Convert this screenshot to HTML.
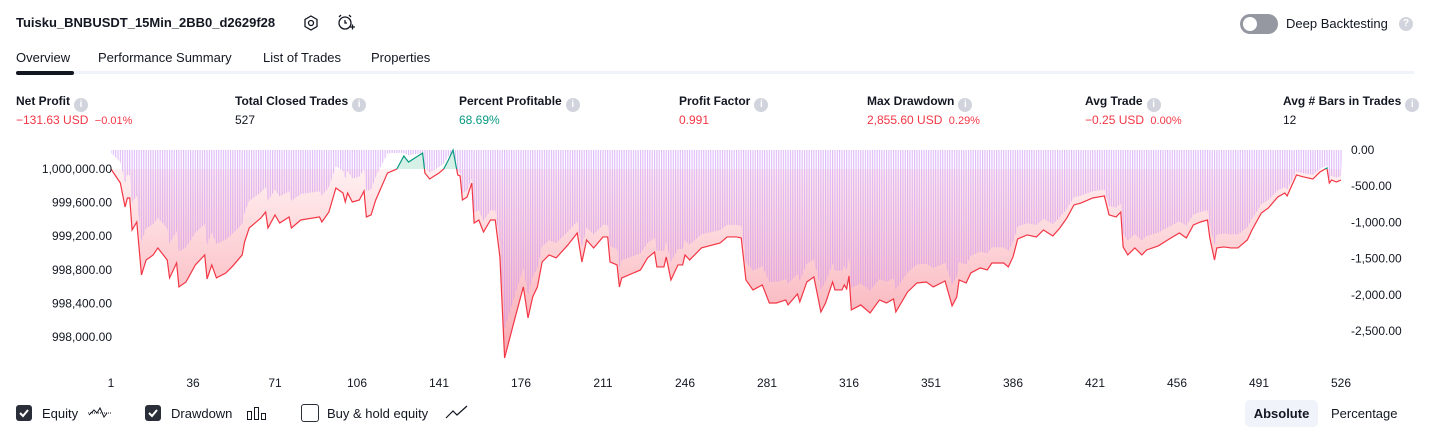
<!DOCTYPE html>
<html><head><meta charset="utf-8">
<style>
body{margin:0;width:1431px;height:438px;background:#fff;font-family:"Liberation Sans",sans-serif;color:#131722;position:relative;overflow:hidden}
.a{position:absolute;white-space:nowrap}
.t{font-size:13px}
.lab{font-size:12px;font-weight:bold;color:#131722}
.val{font-size:12px}
.red{color:#f23645}.green{color:#089981}
.info{display:inline-block;width:14px;height:14px;border-radius:7px;background:#d1d4dc;color:#fff;font-size:10px;text-align:center;line-height:14px;font-weight:bold;vertical-align:-2px;margin-left:4px}
.cb{position:absolute;width:16px;height:16px;border-radius:3px;top:405px}
</style></head><body>
<div class="a" style="left:16px;top:15px;font-size:13px;font-weight:bold">Tuisku_BNBUSDT_15Min_2BB0_d2629f28</div>
<svg class="a" style="left:302px;top:14px" width="18" height="18" viewBox="0 0 18 18"><polygon points="9,2 15,5.5 15,12.5 9,16 3,12.5 3,5.5" fill="none" stroke="#131722" stroke-width="1.3"/><circle cx="9" cy="9" r="2.5" fill="none" stroke="#131722" stroke-width="1.3"/></svg>
<svg class="a" style="left:336px;top:13px" width="20" height="20" viewBox="0 0 20 20"><circle cx="9" cy="10" r="6" fill="none" stroke="#131722" stroke-width="1.3"/><path d="M9 7v3h2M3 4l2-2M15 4l-2-2M14 14h5M16.5 11.5v5" stroke="#131722" stroke-width="1.3" fill="none"/></svg>
<div class="a" style="left:1240px;top:14px;width:38px;height:20px;border-radius:10px;background:#9598a1"><div style="position:absolute;left:3px;top:3px;width:14px;height:14px;border-radius:7px;background:#fff"></div></div>
<div class="a t" style="left:1286px;top:16px">Deep Backtesting</div>
<div class="a info" style="left:1395px;top:17px">?</div>

<div class="a t" style="left:16px;top:50px">Overview</div>
<div class="a t" style="left:98px;top:50px">Performance Summary</div>
<div class="a t" style="left:263px;top:50px">List of Trades</div>
<div class="a t" style="left:371px;top:50px">Properties</div>
<div class="a" style="left:16px;top:71px;width:1398px;height:3px;background:#f0f3fa"></div>
<div class="a" style="left:16px;top:71px;width:58px;height:4px;border-radius:2px;background:#131722"></div>

<div class="a lab" style="left:16px;top:94px">Net Profit<span class="info">i</span></div>
<div class="a val red" style="left:16px;top:113px">−131.63 USD <span style="font-size:11px">&nbsp;−0.01%</span></div>
<div class="a lab" style="left:235px;top:94px">Total Closed Trades<span class="info">i</span></div>
<div class="a val" style="left:235px;top:113px">527</div>
<div class="a lab" style="left:459px;top:94px">Percent Profitable<span class="info">i</span></div>
<div class="a val green" style="left:459px;top:113px">68.69%</div>
<div class="a lab" style="left:679px;top:94px">Profit Factor<span class="info">i</span></div>
<div class="a val red" style="left:679px;top:113px">0.991</div>
<div class="a lab" style="left:867px;top:94px">Max Drawdown<span class="info">i</span></div>
<div class="a val red" style="left:867px;top:113px">2,855.60 USD <span style="font-size:11px">&nbsp;0.29%</span></div>
<div class="a lab" style="left:1085px;top:94px">Avg Trade<span class="info">i</span></div>
<div class="a val red" style="left:1085px;top:113px">−0.25 USD <span style="font-size:11px">&nbsp;0.00%</span></div>
<div class="a lab" style="left:1283px;top:94px">Avg # Bars in Trades<span class="info">i</span></div>
<div class="a val" style="left:1283px;top:113px">12</div>

<svg id="chart" class="a" style="left:0;top:0" width="1431" height="395">
<defs>
<linearGradient id="pg" x1="0" y1="169" x2="0" y2="358" gradientUnits="userSpaceOnUse"><stop offset="0" stop-color="#fff0f1"/><stop offset="1" stop-color="#f8a9b2"/></linearGradient>
<clipPath id="below"><rect x="0" y="169" width="1431" height="300"/></clipPath>
<clipPath id="above"><rect x="0" y="0" width="1431" height="169"/></clipPath>
<pattern id="stripes" patternUnits="userSpaceOnUse" x="110.4" y="0" width="2.343" height="20"><rect x="0" y="0" width="1.15" height="20" fill="#c98ef5"/></pattern>
</defs>
<g id="g-fill"></g><g id="g-bars"></g><g id="g-line"></g><g id="g-axes"></g>
</svg>

<div class="cb" style="left:16px;background:#2a2e39"><svg width="16" height="16"><path d="M4 8l3 3 5-6" stroke="#fff" stroke-width="2" fill="none"/></svg></div>
<div class="a t" style="left:42px;top:406px">Equity</div>
<svg class="a" style="left:87px;top:403px" width="26" height="18"><path d="M1 10h24" stroke="#131722" stroke-dasharray="1 1"/><path d="M2 12l5-5 3 3 3-5 4 9 3-4" stroke="#131722" fill="none"/></svg>
<div class="cb" style="left:145px;background:#2a2e39"><svg width="16" height="16"><path d="M4 8l3 3 5-6" stroke="#fff" stroke-width="2" fill="none"/></svg></div>
<div class="a t" style="left:171px;top:406px">Drawdown</div>
<svg class="a" style="left:246px;top:404px" width="22" height="18"><rect x="1.5" y="7.5" width="4" height="8" fill="none" stroke="#131722"/><rect x="8.5" y="3.5" width="4" height="12" fill="none" stroke="#131722"/><rect x="15.5" y="9.5" width="4" height="6" fill="none" stroke="#131722"/></svg>
<div class="cb" style="left:301px;border:1px solid #2a2e39;width:16px;height:16px;top:404px"></div>
<div class="a t" style="left:327px;top:406px">Buy &amp; hold equity</div>
<svg class="a" style="left:445px;top:404px" width="24" height="16"><path d="M1 14l7-7 4 4 10-9" stroke="#131722" fill="none" stroke-width="1.2"/></svg>
<div class="a t" style="left:1245px;top:400px;width:73px;height:27px;line-height:27px;text-align:center;background:#f0f3fa;border-radius:5px;font-weight:bold">Absolute</div>
<div class="a t" style="left:1331px;top:400px;height:27px;line-height:27px">Percentage</div>

<script>
const trades=[1,5,7,8,9,10,12,14,16,19,21,25,26,29,30,33,37,41,42,44,46,50,53,57,58,60,65,67,68,71,73,77,78,82,90,91,94,97,100,101,102,104,107,109,110,112,114,119,121,123,126,128,134,135,137,141,143,145,147,149,150,151,153,155,156,158,160,163,165,167,169,171,173,177,179,181,183,185,188,191,196,200,202,204,207,211,213,214,217,218,219,227,230,233,234,237,238,240,243,245,246,248,253,261,264,268,270,272,275,279,282,285,289,290,294,295,298,301,304,306,309,310,313,314,315,316,317,321,325,329,332,335,336,341,345,349,352,357,360,362,363,366,368,372,375,377,382,384,386,388,392,396,399,403,406,409,412,415,420,425,427,430,432,433,435,438,441,443,448,452,457,460,463,466,469,470,472,473,476,479,482,486,488,492,495,499,502,503,507,510,514,517,520,521,522,524,526];
const pnl=[0,-167,-452,-345,-345,-726,-631,-1261,-1083,-1023,-940,-1083,-1297,-1119,-1404,-1345,-1142,-1023,-1309,-1142,-1297,-1238,-1154,-1023,-869,-702,-583,-512,-702,-547,-643,-571,-702,-607,-571,-631,-512,-226,-286,-393,-286,-393,-369,-262,-571,-547,-369,-48,-24,0,155,83,190,-48,-119,-48,0,107,226,-71,-83,-369,-333,-167,-643,-607,-750,-607,-607,-1047,-2249,-2035,-1821,-1404,-1773,-1523,-1404,-1107,-1023,-1059,-904,-762,-1107,-845,-940,-809,-809,-1107,-1142,-1404,-1297,-1202,-1059,-988,-1166,-1166,-1047,-1321,-1142,-1142,-1023,-1083,-940,-881,-809,-809,-821,-1321,-1440,-1380,-1595,-1595,-1559,-1618,-1488,-1583,-1345,-1285,-1702,-1595,-1345,-1440,-1440,-1380,-1428,-1273,-1678,-1618,-1714,-1559,-1595,-1547,-1702,-1464,-1357,-1345,-1404,-1333,-1630,-1523,-1321,-1357,-1238,-1178,-1202,-1119,-1119,-1166,-1047,-833,-785,-809,-726,-797,-702,-583,-428,-405,-345,-321,-547,-571,-512,-928,-1023,-940,-1023,-964,-916,-845,-762,-821,-666,-631,-607,-821,-1083,-940,-928,-940,-940,-845,-726,-524,-464,-333,-286,-321,-71,-95,-119,-36,12,-167,-131,-155,-131.63];
const initialCapital=1000000;
const leftTicks=[1000000,999600,999200,998800,998400,998000];
const leftTickLabels=["1,000,000.00","999,600.00","999,200.00","998,800.00","998,400.00","998,000.00"];
const rightTicks=[0,-500,-1000,-1500,-2000,-2500];
const rightTickLabels=["0.00","-500.00","-1,000.00","-1,500.00","-2,000.00","-2,500.00"];
const xTicks=[1,36,71,106,141,176,211,246,281,316,351,386,421,456,491,526];

const NS="http://www.w3.org/2000/svg";
const xS=t=>111+(t-1)*(1230/525);
const yL=v=>169+(1000000-v)/400*33.6;
const yR=d=>150+(-d)/500*36.2;
function mk(tag,attrs,parent){const e=document.createElementNS(NS,tag);for(const k in attrs)e.setAttribute(k,attrs[k]);parent.appendChild(e);return e;}
const gF=document.getElementById('g-fill'),gB=document.getElementById('g-bars'),gL=document.getElementById('g-line'),gA=document.getElementById('g-axes');
const equity=pnl.map(p=>initialCapital+p);
// drawdown: striped area from 0 down to drawdown value
let peak=initialCapital;
let dd='M'+xS(trades[0]).toFixed(2)+' 150';
trades.forEach((t,i)=>{peak=Math.max(peak,equity[i]);const v=peak-equity[i];
 dd+='L'+xS(t).toFixed(2)+' '+Math.max(153,yR(-v)).toFixed(2);});
dd+='L'+(xS(trades[trades.length-1])+1).toFixed(2)+' 150Z';
// line path
let d='';trades.forEach((t,i)=>{d+=(i?'L':'M')+xS(t).toFixed(2)+' '+yL(equity[i]).toFixed(2);});
const base=yL(initialCapital);
const area=d+'L'+xS(trades[trades.length-1])+' '+base+'L'+xS(trades[0])+' '+base+'Z';
const pf=mk('path',{d:area,fill:'url(#pg)','clip-path':'url(#below)'},gF);


const gf=mk('path',{d:area,fill:'#d5f0e6','clip-path':'url(#above)'},gF);


const bars=mk('path',{d:dd,fill:'url(#stripes)',opacity:'0.6'},gB);


const lr=mk('path',{d:d,fill:'none',stroke:'#f23645','stroke-width':1.2,'clip-path':'url(#below)'},gL);


const lg=mk('path',{d:d,fill:'none',stroke:'#089981','stroke-width':1.2,'clip-path':'url(#above)'},gL);


// axes
leftTicks.forEach((v,i)=>{const e=mk('text',{x:112,y:yL(v)+4,'text-anchor':'end','font-size':12,fill:'#131722'},gA);e.textContent=leftTickLabels[i];
 
 });
rightTicks.forEach((v,i)=>{const e=mk('text',{x:1351,y:yR(v)+4,'font-size':12,fill:'#131722'},gA);e.textContent=rightTickLabels[i];
 
 });
xTicks.forEach(t=>{const e=mk('text',{x:xS(t),y:387,'text-anchor':'middle','font-size':12,fill:'#131722'},gA);e.textContent=String(t);
 
 });
</script>
</body></html>
